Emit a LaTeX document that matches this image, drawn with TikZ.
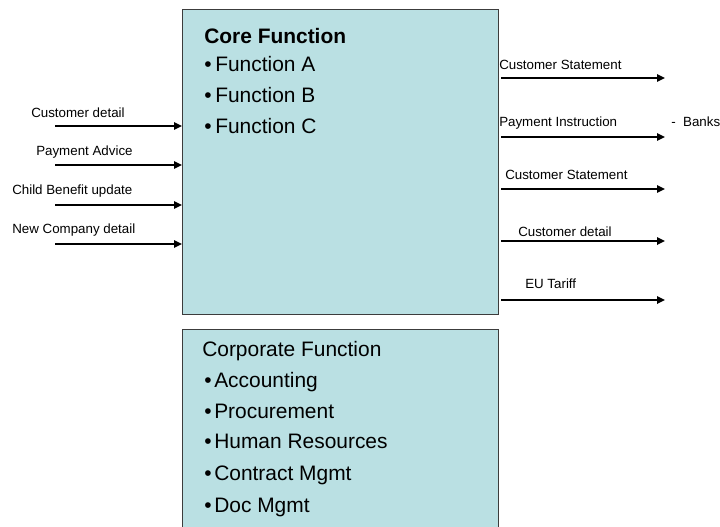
\documentclass[tikz,border=0pt]{standalone}
\usepackage{fontspec}
\setmainfont{Liberation Sans}
\usetikzlibrary{arrows.meta}
\definecolor{boxfill}{RGB}{186,224,227}
\definecolor{boxline}{RGB}{60,60,60}
\tikzset{
  fbox/.style={draw=boxline,line width=0.9pt,fill=boxfill,inner sep=0pt,anchor=north west},
  big/.style={font=\fontsize{15.7pt}{18pt}\selectfont,anchor=base west,inner sep=0pt},
  bul/.style={font=\fontsize{15.7pt}{18pt}\selectfont,anchor=base west,inner sep=0pt},
  lbl/.style={font=\fontsize{10pt}{12pt}\selectfont,anchor=base west,inner sep=0pt},
  arr/.style={line width=1.8pt,-{Triangle[length=6pt,width=5.5pt]}},
}
\begin{document}
\begin{tikzpicture}[x=0.75pt,y=-0.75pt]
\useasboundingbox (0,0) rectangle (720,526);
\begin{scope}
\clip (0,0) rectangle (720,526);
% boxes
\node[fbox,minimum width=316*0.75pt,minimum height=305*0.75pt] (core) at (182,9) {};
\node[fbox,minimum width=316*0.75pt,minimum height=210*0.75pt] (corp) at (182,329) {};
\end{scope}
% core text
\node[big,font=\bfseries\fontsize{15.7pt}{18pt}\selectfont] (ct) at (204,43) {Core Function};
\node[bul] (b1) at (204,71) {•};
\node[big] (fa) at (215,71) {Function A};
\node[bul] (b2) at (204,102) {•};
\node[big] (fb) at (215,102) {Function B};
\node[bul] (b3) at (204,133) {•};
\node[big] (fc) at (215,133) {Function C};
% corporate text
\node[big] (cpt) at (202,356) {Corporate Function};
\node[bul] (c1) at (204,387) {•};
\node[big] (acc) at (214,387) {Accounting};
\node[bul] (c2) at (204,418) {•};
\node[big] (pro) at (214,418) {Procurement};
\node[bul] (c3) at (204,448) {•};
\node[big] (hr) at (214,448) {Human Resources};
\node[bul] (c4) at (204,480) {•};
\node[big] (con) at (214,480) {Contract Mgmt};
\node[bul] (c5) at (204,512) {•};
\node[big] (doc) at (214,512) {Doc Mgmt};
% left inputs
\node[lbl] (l1) at (31,117) {Customer detail};
\node[lbl] (l2) at (36,155) {Payment Advice};
\node[lbl] (l3) at (12,194) {Child Benefit update};
\node[lbl] (l4) at (12,233) {New Company detail};
\coordinate (s1) at (55,126);
\coordinate (s2) at (55,165);
\coordinate (s3) at (55,205);
\coordinate (s4) at (55,244);
\draw[arr] (s1) -- (s1 -| core.west);
\draw[arr] (s2) -- (s2 -| core.west);
\draw[arr] (s3) -- (s3 -| core.west);
\draw[arr] (s4) -- (s4 -| core.west);
% right outputs
\node[lbl] (r1) at (499,69) {Customer Statement};
\node[lbl] (r2) at (499,126) {Payment Instruction};
\node[lbl] (bk) at (671,126) {-\ \ Banks};
\node[lbl] (r3) at (505,179) {Customer Statement};
\node[lbl] (r4) at (518,236) {Customer detail};
\node[lbl] (r5) at (525,288) {EU Tariff};
\coordinate (e1) at (665,78);
\coordinate (e2) at (665,137);
\coordinate (e3) at (665,189);
\coordinate (e4) at (665,241);
\coordinate (e5) at (665,300);
\draw[arr] ([xshift=1.5pt]e1 -| core.east) -- (e1);
\draw[arr] ([xshift=1.5pt]e2 -| core.east) -- (e2);
\draw[arr] ([xshift=1.5pt]e3 -| core.east) -- (e3);
\draw[arr] ([xshift=1.5pt]e4 -| core.east) -- (e4);
\draw[arr] ([xshift=1.5pt]e5 -| core.east) -- (e5);
\end{tikzpicture}
\end{document}
